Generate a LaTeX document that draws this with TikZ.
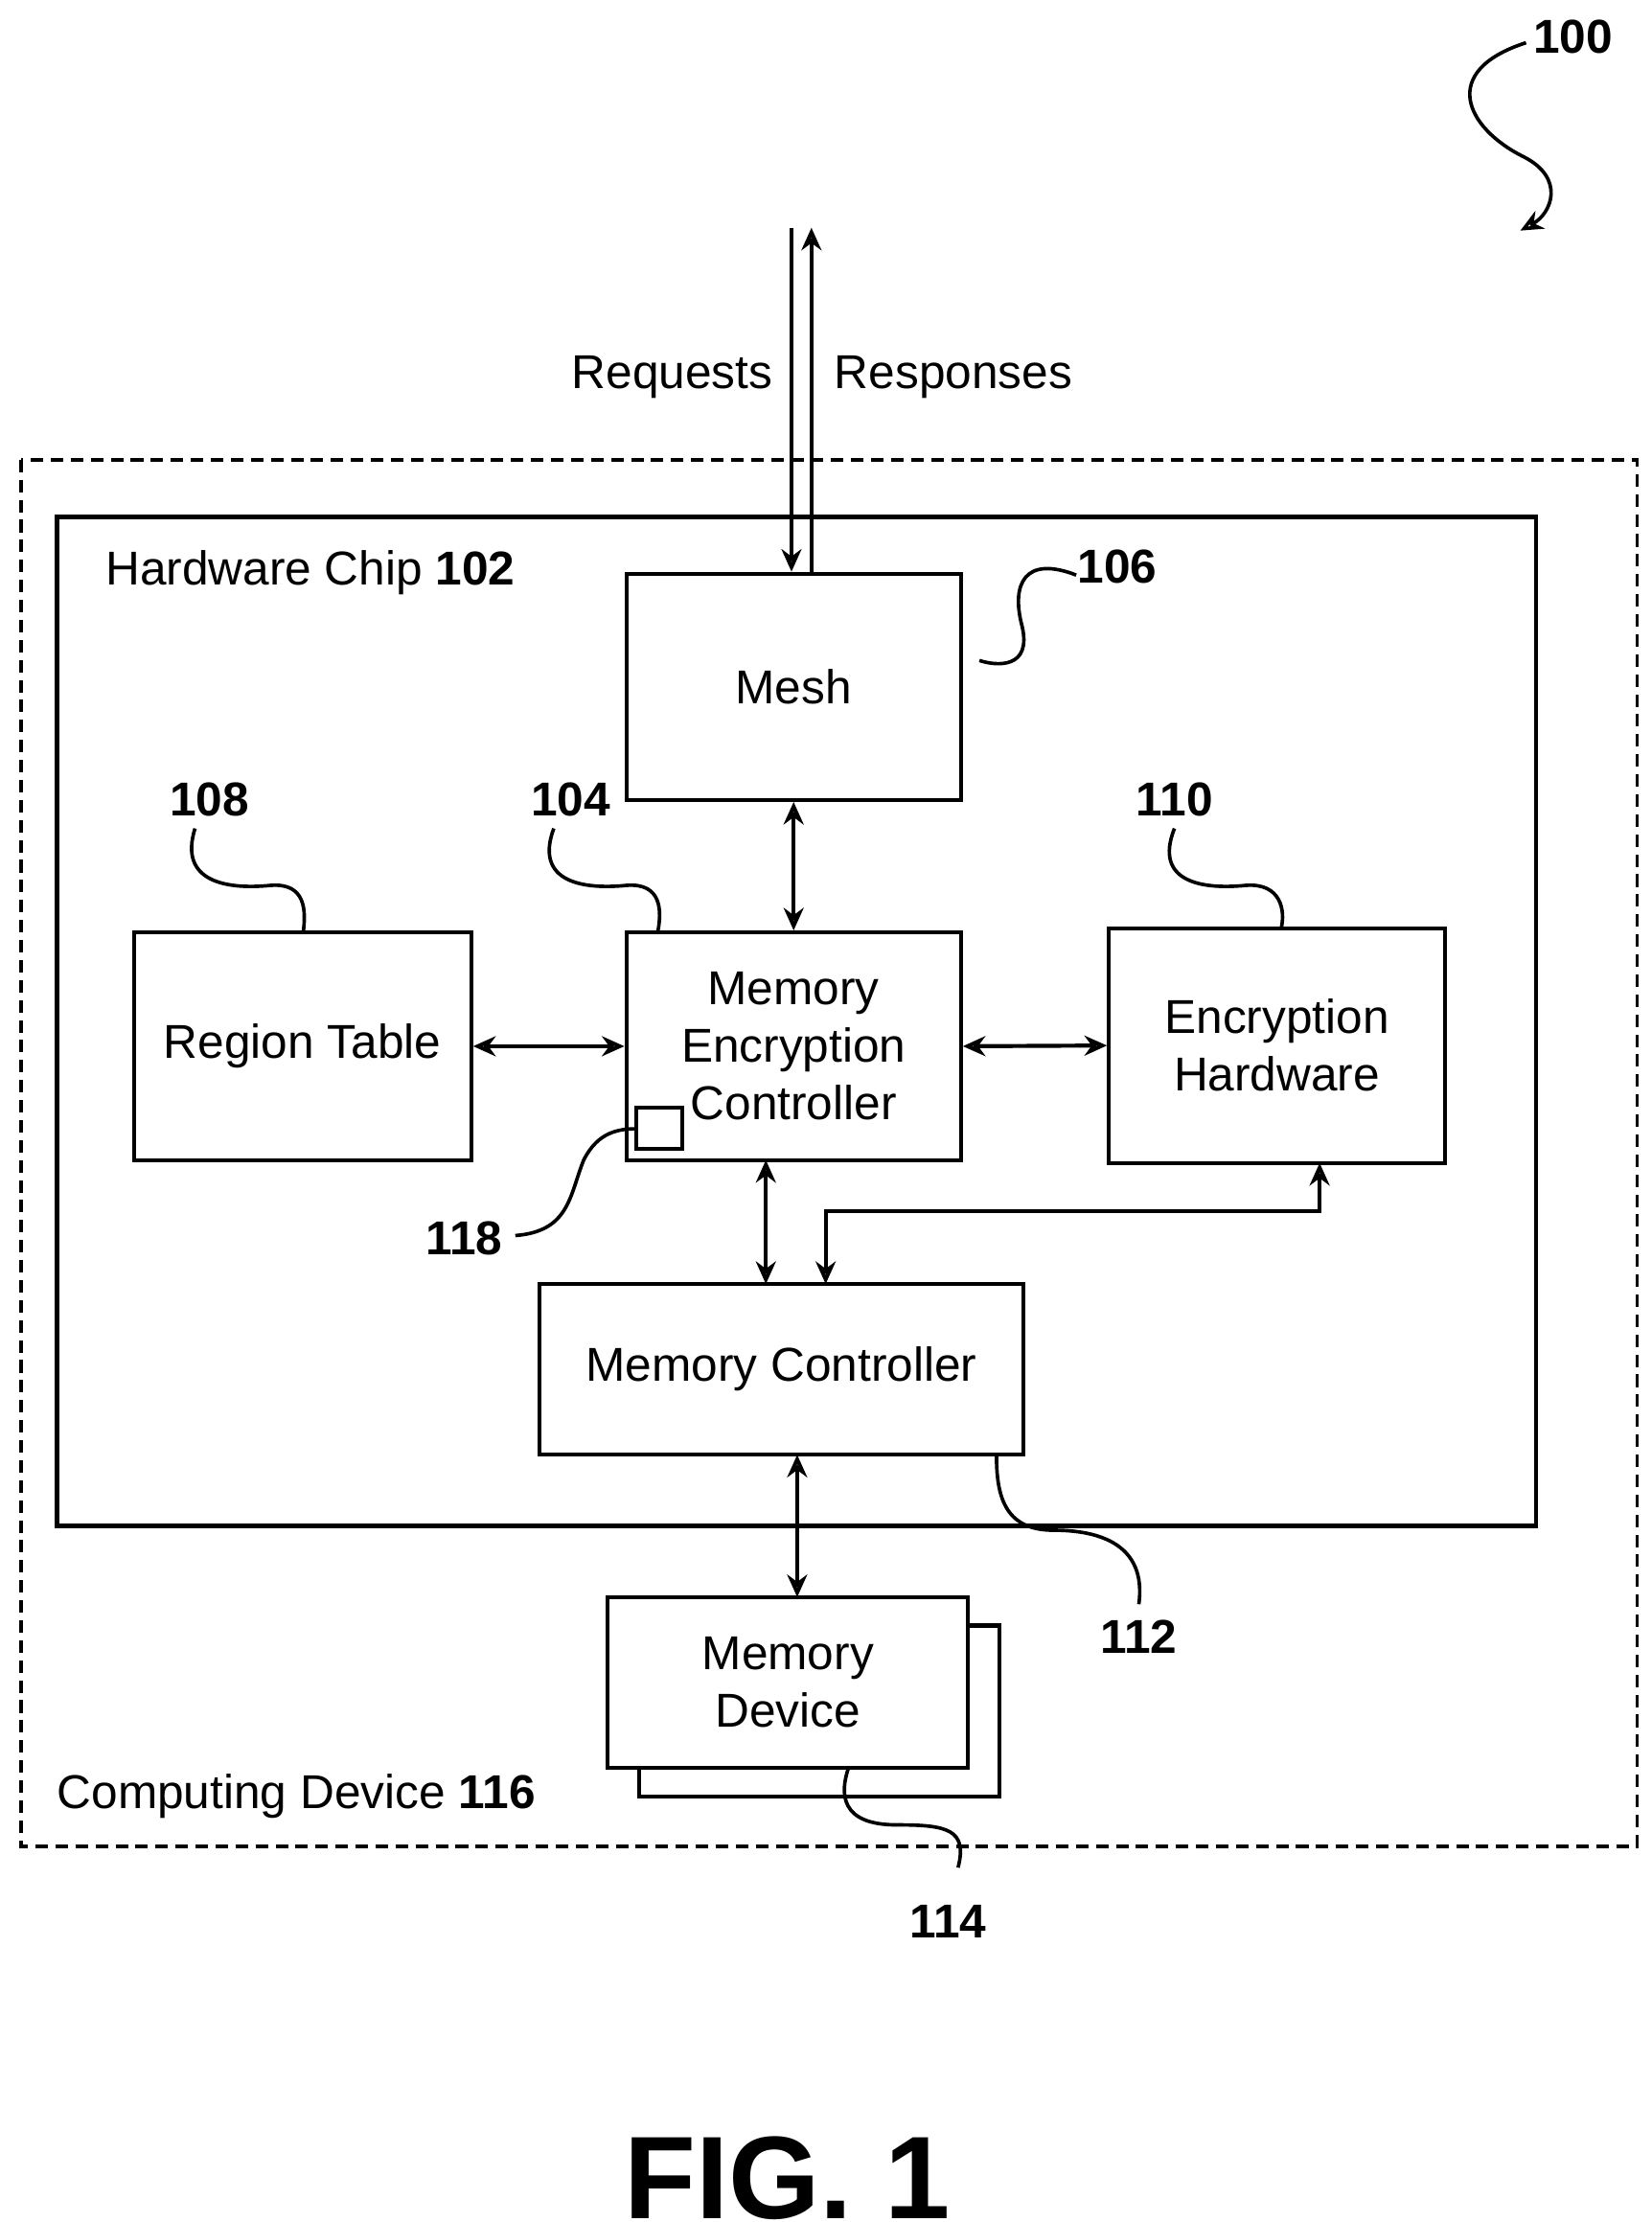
\documentclass[tikz,border=0pt]{standalone}
\usepackage{fontspec}
\setmainfont{Liberation Sans}
\usetikzlibrary{positioning,arrows.meta}

\tikzset{
  box/.style={draw, line width=1.6pt, align=center, font=\fontsize{19}{23}\selectfont},
  link/.style={line width=1.6pt, {Stealth[length=9pt,width=8pt,open]}-{Stealth[length=9pt,width=8pt,open]}},
  lead/.style={line width=1.4pt},
  num/.style={font=\fontsize{19}{23}\selectfont\bfseries},
  lbl/.style={font=\fontsize{19}{23}\selectfont}
}

\begin{document}
\begin{tikzpicture}[x=0.02cm,y=-0.02cm]
\useasboundingbox (0,0) rectangle (1160,1561);

\draw[line width=1.4pt, dash pattern=on 5pt off 3pt] (15,323) rectangle (1150,1297);
\draw[line width=1.8pt] (40,363) rectangle (1079,1072);

\node[box, minimum width=4.7cm, minimum height=3.18cm] (mesh) at (557.5,482.5) {Mesh};
\node[box, minimum width=4.74cm, minimum height=3.2cm] (table) at (212.5,735) {Region Table};
\node[box, minimum width=4.7cm, minimum height=3.2cm] (mec) at (557.5,735) {Memory\\Encryption\\Controller};
\node[box, minimum width=4.72cm, minimum height=3.3cm] (enc) at (897,734.5) {Encryption\\Hardware};
\node[box, minimum width=6.8cm, minimum height=2.4cm] (mc) at (549,962) {Memory Controller};
\draw[line width=1.6pt, fill=white] (449,1142) rectangle (702,1262);
\node[box, fill=white, minimum width=5.06cm, minimum height=2.4cm] (md) at (553.5,1182) {Memory\\Device};
\node[draw, line width=1.6pt, minimum width=0.64cm, minimum height=0.58cm, inner sep=0pt] (reg) at (463,792.5) {};

% external lines
\coordinate (reqtop) at (556,160);
\coordinate (restop) at (570,160);
\draw[line width=1.6pt, -{Stealth[length=9pt,width=8pt,open]}] (reqtop) -- (reqtop |- mesh.north);
\draw[line width=1.6pt, -{Stealth[length=9pt,width=8pt,open]}] (restop |- mesh.north) -- (restop);
\node[lbl, anchor=east] (req) at (549,265) {Requests};
\node[lbl, anchor=west] (res) at (580,265) {Responses};

% links
\draw[link] (mesh.south) -- (mec.north);
\draw[link] (table.east) -- (mec.west);
\draw[link] (mec.east) -- (enc.west);
\draw[link] (538,815) -- (538,902);
\draw[link] (927,817) -- (927,851) -- (580,851) -- (580,902);
\draw[link] (560,1022) -- (560,1122);

% labels
\node[lbl, anchor=west] (chip) at (68,402) {Hardware Chip \textbf{102}};
\node[lbl, anchor=west] (dev) at (34,1262) {Computing Device \textbf{116}};

\node[num] (n100) at (1105,26) {100};
\node[num] (n106) at (785,398) {106};
\node[num] (n108) at (147,562) {108};
\node[num] (n104) at (401,562) {104};
\node[num] (n110) at (825,562) {110};
\node[num] (n118) at (326,870) {118};
\node[num] (n112) at (800,1150) {112};
\node[num] (n114) at (666,1350) {114};

\draw[lead, -{Stealth[length=9pt,width=8pt,open]}] (1072,30) .. controls (1010,50) and (1030,90) .. (1070,110) .. controls (1100,125) and (1090,150) .. (1068,162);
\draw[lead] (756,404) .. controls (720,390) and (710,410) .. (718,440) .. controls (725,470) and (700,468) .. (688,464);
\draw[lead] (137,582) .. controls (125,620) and (160,625) .. (190,622) .. controls (215,620) and (215,640) .. (213,655);
\draw[lead] (389,582) .. controls (375,620) and (410,625) .. (440,622) .. controls (465,620) and (465,640) .. (462,655);
\draw[lead] (825,582) .. controls (810,620) and (845,625) .. (875,622) .. controls (900,620) and (903,640) .. (900,652);
\draw[lead] (362,868) .. controls (400,865) and (400,840) .. (410,815) .. controls (420,795) and (435,793) .. (447,793);
\draw[lead] (800,1127) .. controls (805,1090) and (780,1075) .. (740,1075) .. controls (705,1075) and (700,1050) .. (700,1022);
\draw[lead] (673,1312) .. controls (680,1285) and (665,1282) .. (630,1282) .. controls (590,1282) and (590,1260) .. (596,1242);

\node[font=\fontsize{47}{50}\selectfont\bfseries] (fig) at (553,1530) {FIG. 1};
\end{tikzpicture}
\end{document}
